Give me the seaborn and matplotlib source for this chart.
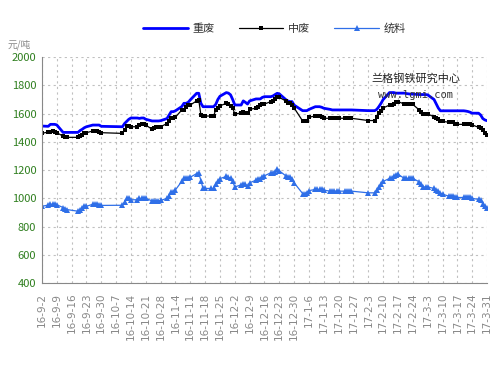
import numpy as np
import pandas as pd
import seaborn as sns
import matplotlib.pyplot as plt

# trading days (weekdays minus Chinese holidays)
holidays = ['2016-09-15', '2016-09-16', '2016-10-03', '2016-10-04', '2016-10-05',
            '2016-10-06', '2016-10-07', '2017-01-02', '2017-01-27', '2017-01-30',
            '2017-01-31', '2017-02-01', '2017-02-02']
days = pd.bdate_range('2016-09-02', '2017-03-31')
days = days[~days.isin(pd.to_datetime(holidays))]

# 重废
heavy = [1512, 1510, 1524, 1524, 1524, 1520, 1467, 1467, 1467, 1467, 1480, 1489, 1500, 1507, 1519, 1519, 1519, 1519, 1510,
         1507, 1530, 1545, 1560, 1569, 1569, 1566, 1569, 1569, 1560, 1548, 1548, 1548, 1548, 1550, 1565,
         1590, 1614, 1614, 1620, 1650, 1673, 1673, 1680, 1697, 1744, 1744, 1673, 1649, 1649, 1649, 1649, 1665, 1700, 1723, 1749, 1745, 1733,
         1700, 1661, 1661, 1690, 1680, 1668, 1690, 1704, 1704, 1704, 1715, 1720, 1720, 1725, 1735, 1744, 1740, 1700, 1690, 1685, 1685, 1660,
         1621, 1621, 1621, 1630, 1649, 1649, 1649, 1645, 1638, 1630, 1626, 1626, 1626, 1626, 1626, 1626, 1626, 1626,
         1621, 1621, 1630, 1650, 1673, 1700, 1749, 1749, 1749, 1745, 1745, 1745, 1742, 1740, 1738, 1738, 1735, 1735,
         1735, 1735, 1733, 1700, 1670, 1640, 1620, 1620, 1620, 1620, 1620, 1620, 1620, 1620, 1618, 1615, 1610, 1603, 1603, 1590, 1565, 1555, 1550]
# 中废
medium = [1460, 1470, 1472, 1475, 1472, 1465, 1440, 1432, 1432, 1432, 1440, 1450, 1460, 1465, 1477, 1477, 1475, 1470, 1465,
          1460, 1484, 1512, 1512, 1507, 1507, 1520, 1524, 1524, 1519, 1489, 1495, 1507, 1507, 1507, 1530,
          1550, 1567, 1567, 1575, 1626, 1626, 1650, 1661, 1661, 1690, 1697, 1590, 1583, 1583, 1583, 1583, 1626, 1640, 1655, 1673, 1665, 1652,
          1640, 1597, 1605, 1614, 1605, 1602, 1631, 1638, 1650, 1661, 1668, 1668, 1685, 1692, 1700, 1720, 1715, 1690, 1678, 1678, 1660, 1640,
          1548, 1548, 1548, 1575, 1583, 1583, 1583, 1575, 1567, 1567, 1567, 1567, 1567, 1567, 1567, 1567, 1567, 1567,
          1551, 1551, 1575, 1603, 1620, 1640, 1661, 1661, 1670, 1680, 1685, 1668, 1668, 1668, 1668, 1665, 1626, 1615,
          1598, 1598, 1598, 1577, 1570, 1560, 1551, 1545, 1539, 1539, 1539, 1530, 1524, 1524, 1524, 1524, 1524, 1520, 1503, 1500, 1485, 1465, 1450]
# 统料
bulk = [944, 952, 958, 958, 958, 955, 935, 928, 920, 909, 915, 930, 944, 944, 958, 958, 958, 955, 950,
        951, 975, 999, 999, 990, 990, 999, 999, 999, 999, 982, 982, 982, 982, 985, 1000,
        1020, 1046, 1046, 1060, 1120, 1141, 1141, 1141, 1150, 1175, 1181, 1125, 1070, 1070, 1070, 1070, 1103, 1120, 1140, 1155, 1150, 1141,
        1120, 1081, 1095, 1100, 1100, 1086, 1110, 1129, 1135, 1140, 1153, 1160, 1181, 1181, 1190, 1205, 1195, 1160, 1152, 1152, 1140, 1110,
        1034, 1034, 1040, 1055, 1063, 1063, 1063, 1063, 1058, 1051, 1051, 1051, 1051, 1051, 1051, 1051, 1051, 1051,
        1039, 1039, 1060, 1081, 1100, 1120, 1141, 1141, 1155, 1165, 1171, 1141, 1141, 1141, 1141, 1141, 1117, 1100,
        1081, 1081, 1081, 1070, 1060, 1050, 1039, 1030, 1015, 1015, 1015, 1012, 1006, 1006, 1006, 1006, 1006, 1000, 992, 990, 960, 944, 935]

df = pd.DataFrame({'date': days, '重废': heavy, '中废': medium, '统料': bulk})

sns.set_style('white')
plt.rcParams['font.family'] = ['Noto Sans CJK SC', 'DejaVu Sans']

fig, ax = plt.subplots(figsize=(4.99, 3.71), dpi=100)
fig.subplots_adjust(left=0.084, right=0.976, top=0.846, bottom=0.237)

sns.lineplot(data=df, x='date', y='重废', ax=ax, color='#0000ff', lw=2, label='重废')
sns.lineplot(data=df, x='date', y='中废', ax=ax, color='black', lw=0.9, marker='s',
             markersize=3.5, markeredgewidth=0, label='中废')
sns.lineplot(data=df, x='date', y='统料', ax=ax, color='#2f6fe8', lw=0.9, marker='^',
             markersize=5, markeredgewidth=0, label='统料')

ticks = pd.date_range('2016-09-02', '2017-03-31', freq='7D')
ax.set_xticks(ticks)
ax.set_xticklabels([f'{d.year % 100}-{d.month}-{d.day}' for d in ticks],
                   rotation=90, fontsize=7.5, color='#888888', family='DejaVu Sans')
ax.set_xlim(ticks[0], ticks[-1])
ax.set_ylim(400, 2000)
ax.set_yticks(np.arange(400, 2001, 200))
ax.tick_params(axis='y', length=0, labelsize=8, labelcolor='#2f7f1f', pad=4)
ax.tick_params(axis='x', length=4, color='#888888', pad=3)
ax.set_xlabel('')
ax.set_ylabel('')

ax.grid(True, color='#c0c0c0', ls=(0, (2, 3)), lw=0.8)
for s in ['top', 'right']:
    ax.spines[s].set_visible(False)
for s in ['left', 'bottom']:
    ax.spines[s].set_color('#888888')

ax.get_legend().remove()
h, l = ax.get_legend_handles_labels()
fig.legend(h, l, loc='center', bbox_to_anchor=(0.55, 0.922), ncol=3, frameon=False,
           fontsize=8, handlelength=4, columnspacing=2.2, handletextpad=0.4,
           labelcolor='#333333')

fig.text(0.016, 0.873, '元/吨', fontsize=7, color='#888888')
ax.text(0.84, 0.89, '兰格钢铁研究中心', transform=ax.transAxes, fontsize=8, ha='center', color='#222222')
ax.text(0.84, 0.82, 'www.lgmi.com', transform=ax.transAxes, fontsize=7.5, ha='center',
        color='#333333', family='DejaVu Sans Mono')

fig.savefig('out.png', dpi=100)
